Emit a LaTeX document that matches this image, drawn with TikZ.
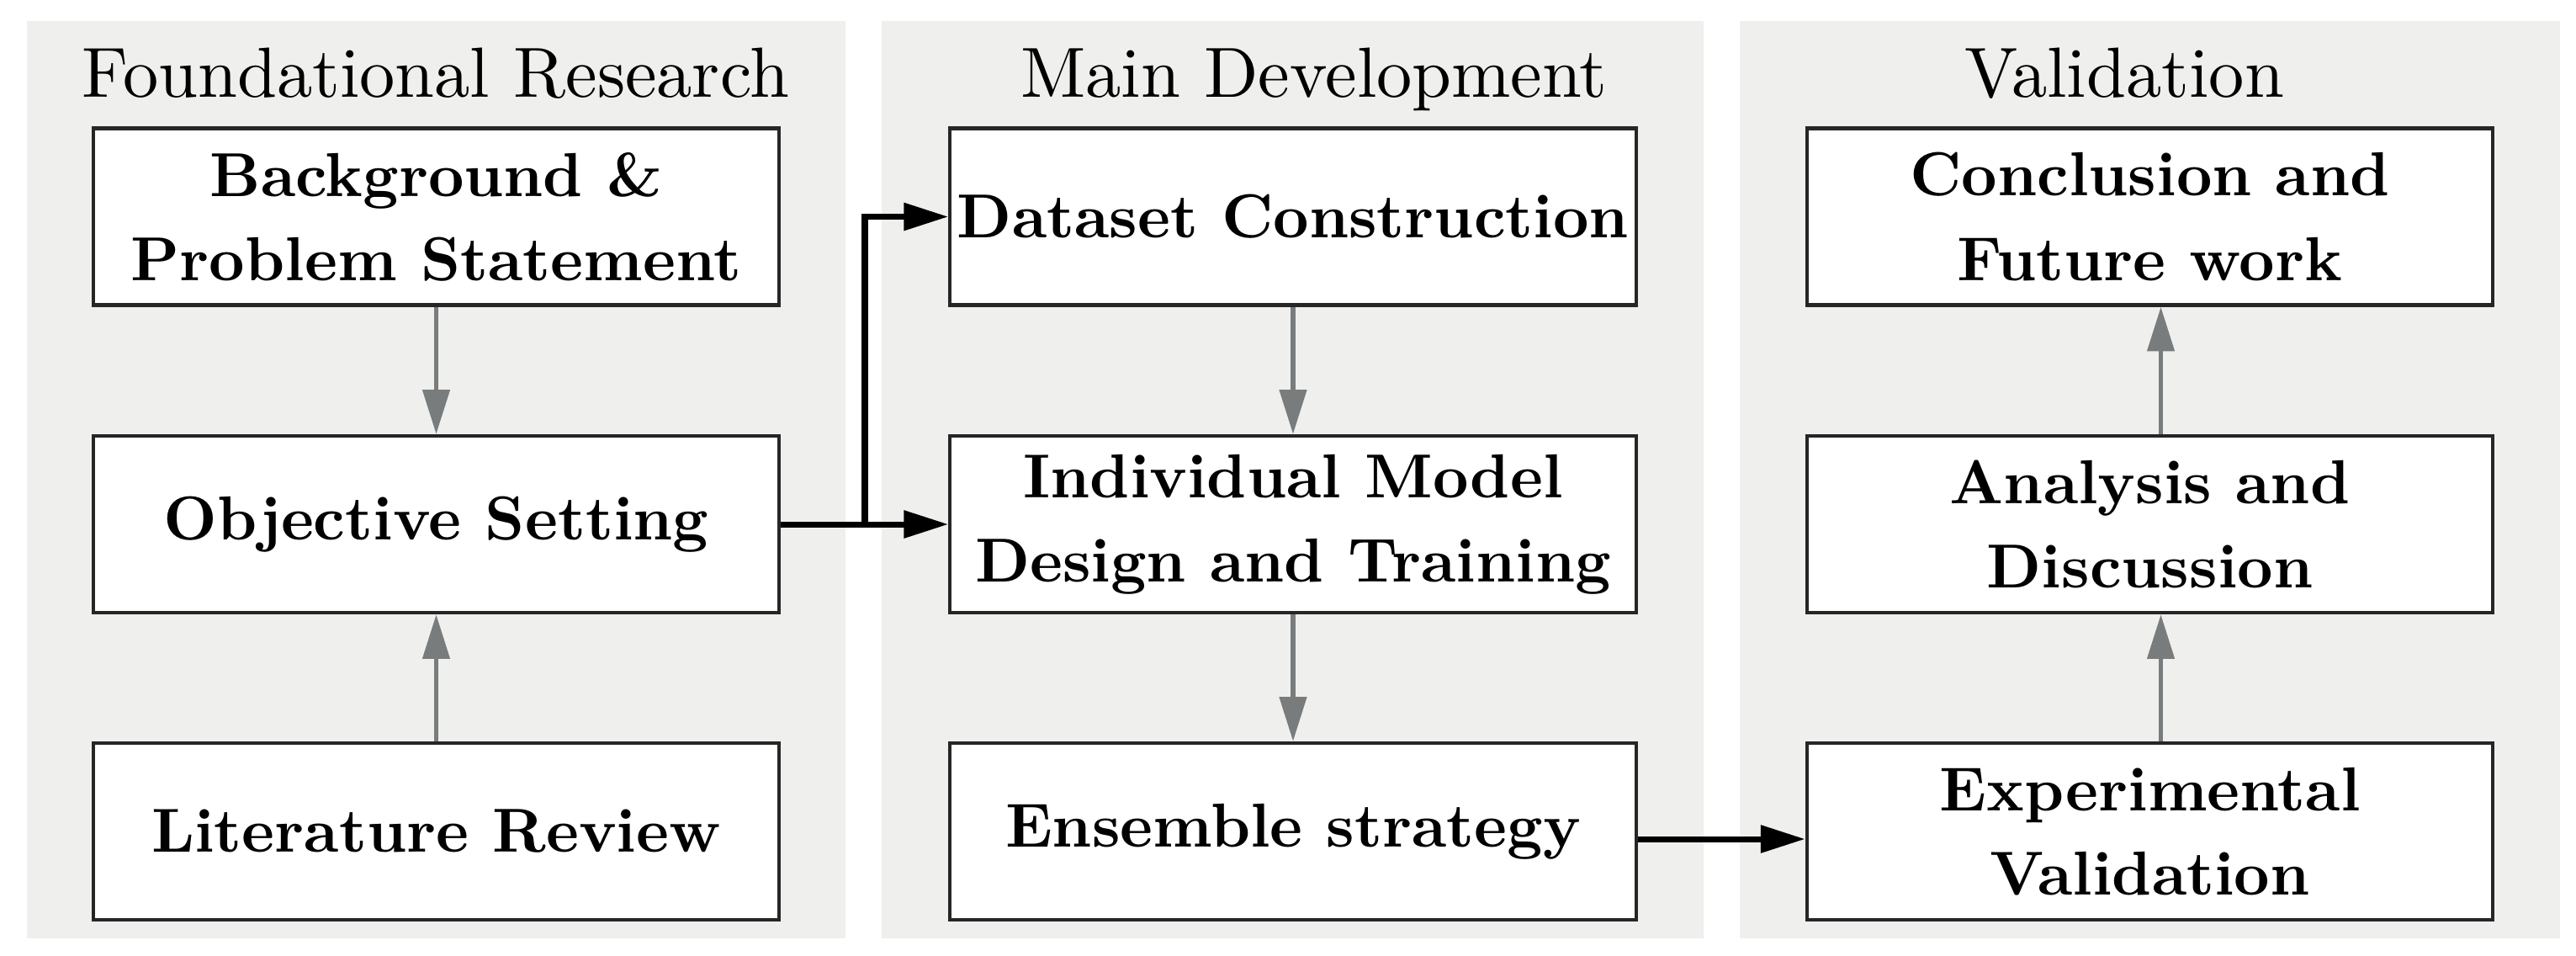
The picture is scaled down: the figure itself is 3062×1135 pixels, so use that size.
\documentclass[tikz,border=0pt]{standalone}
\usepackage{fontspec}
\newfontfamily\ttlfont{lmroman10-regular.otf}
\newfontfamily\boxfont{lmroman10-bold.otf}
\usetikzlibrary{arrows.meta,calc}
\definecolor{panelbg}{RGB}{239,239,237}
\definecolor{arrgray}{RGB}{120,124,124}
\begin{document}
\begin{tikzpicture}[x=0.01cm,y=-0.01cm,
  panel/.style={fill=panelbg,draw=none},
  ttl/.style={anchor=base,inner sep=0pt,font=\ttlfont\fontsize{24}{29}\selectfont},
  box/.style={draw=black!85,line width=1.2pt,fill=white,inner sep=0pt,align=center,
     minimum width=8.15cm,minimum height=2.1cm,font=\boxfont\fontsize{21}{28.5}\selectfont},
  garr/.style={draw=arrgray,line width=1.6pt,-{Triangle[length=15pt,width=9pt]}},
  barr/.style={draw=black,line width=2pt,-{Triangle[length=15pt,width=9pt]}}]
\useasboundingbox (0,0) rectangle (3062,1135);
% panels
\path[panel] (32,25) rectangle (1005,1115);
\path[panel] (1048,25) rectangle (2025,1115);
\path[panel] (2068,25) rectangle (3043,1115);
% titles
\node[ttl] (t1) at (518,115) {Foundational Research};
\node[ttl] (t2) at (1562,115) {Main Development};
\node[ttl] (t3) at (2525,115) {Validation};
% column 1
\node[box] (bg)  at (518.5,257.5) {Background \&\\Problem Statement};
\node[box] (obj) at (518.5,623) {Objective Setting};
\node[box] (lit) at (518.5,988) {Literature Review};
% column 2
\node[box] (ds)  at (1537,257.5) {Dataset Construction};
\node[box] (ind) at (1537,623) {Individual Model\\Design and Training};
\node[box] (ens) at (1537,988) {Ensemble strategy};
% column 3
\node[box] (con) at (2555.5,257.5) {Conclusion and\\Future work};
\node[box] (ana) at (2555.5,623) {Analysis and\\Discussion};
\node[box] (exp) at (2555.5,988) {Experimental\\Validation};
% arrows
\draw[garr] (bg.south) -- (obj.north);
\draw[garr] (lit.north) -- (obj.south);
\draw[garr] (ds.south) -- (ind.north);
\draw[garr] (ind.south) -- (ens.north);
\draw[garr] ([xshift=0.13cm]exp.north) -- ([xshift=0.13cm]ana.south);
\draw[garr] ([xshift=0.13cm]ana.north) -- ([xshift=0.13cm]con.south);
\coordinate (j) at (1028,623);
\draw[barr] (obj.east) -- (ind.west);
\draw[barr] (j) |- (ds.west);
\draw[barr] ([yshift=-0.09cm]ens.east) -- ([yshift=-0.09cm]exp.west);
\end{tikzpicture}
\end{document}
